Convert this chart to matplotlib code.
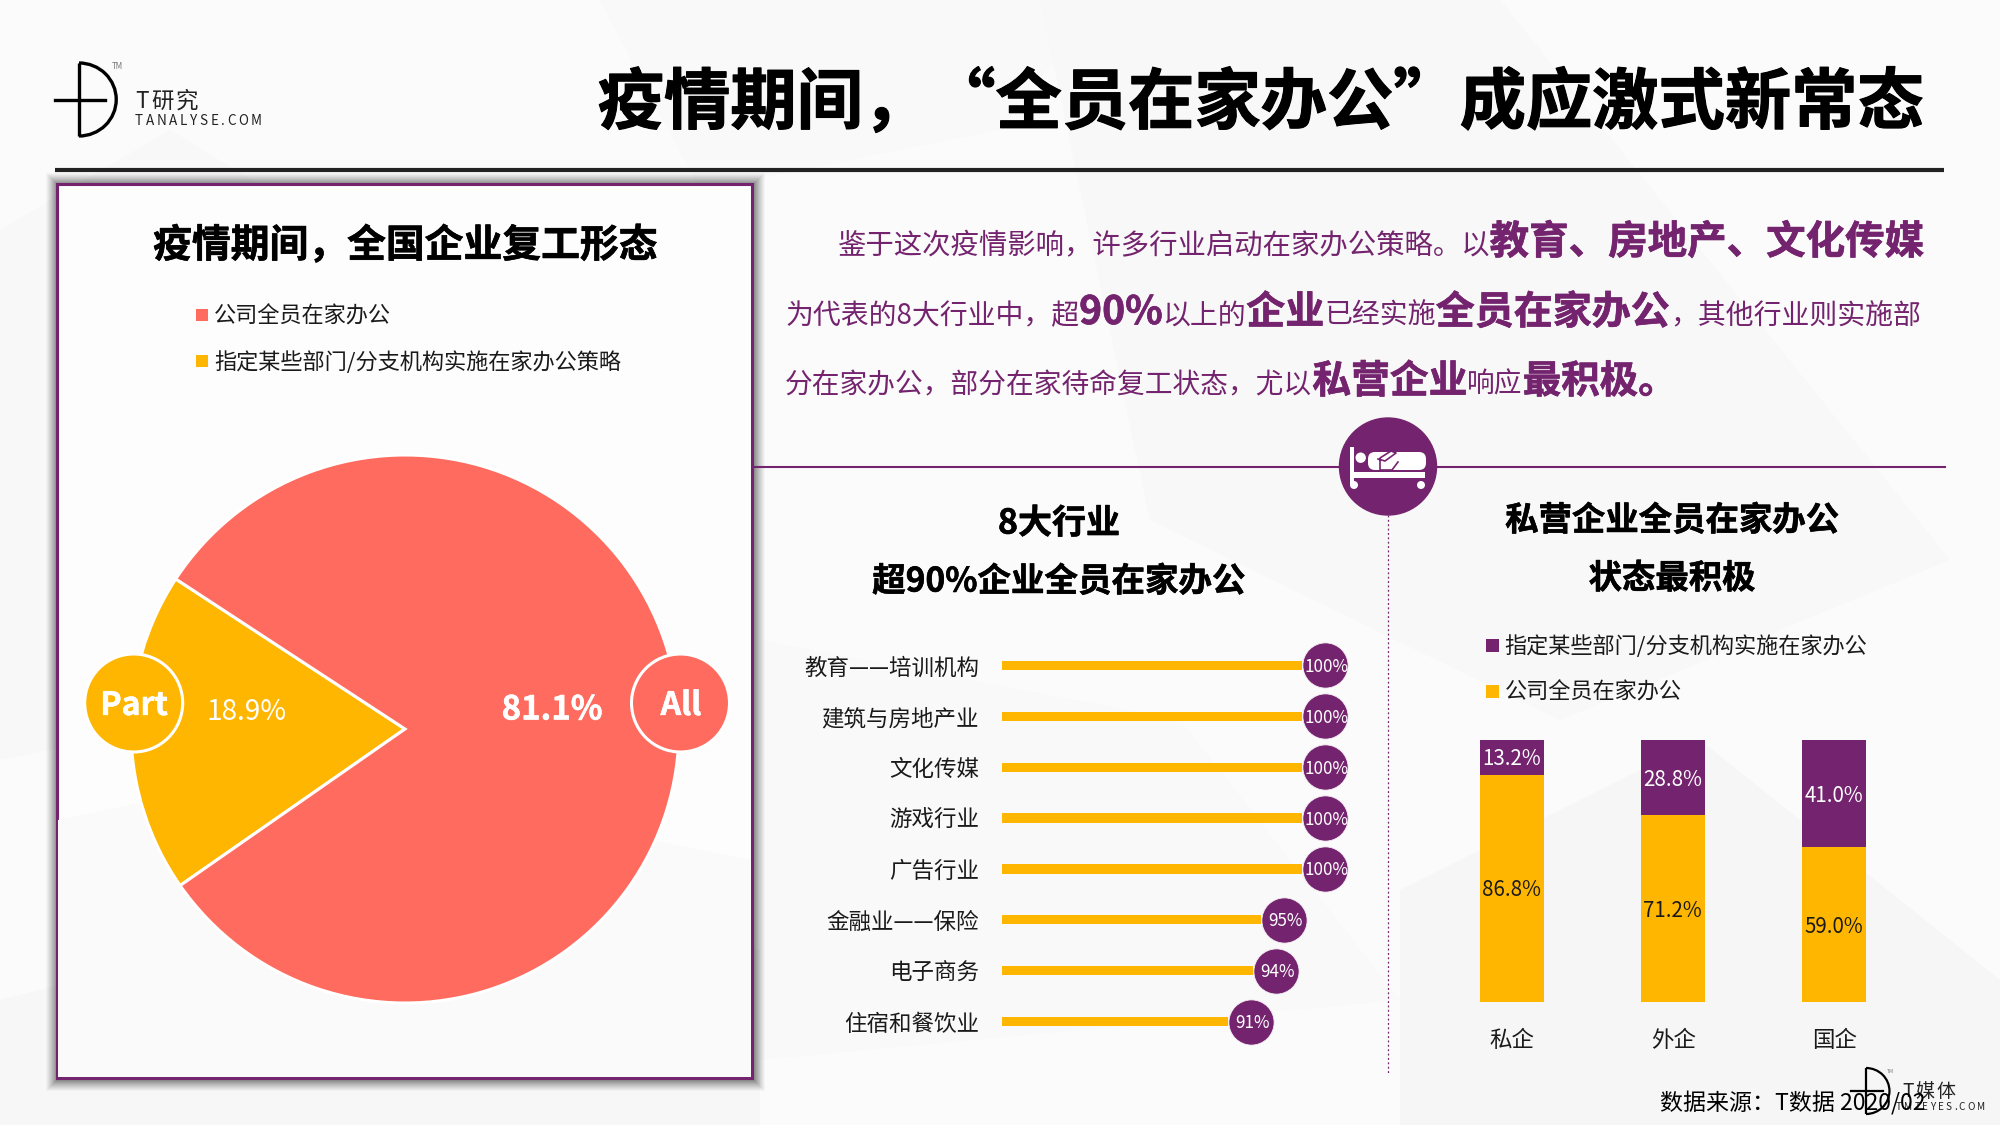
import matplotlib
matplotlib.use("Agg")
import matplotlib.pyplot as plt
import matplotlib.patheffects as pe
from matplotlib.patches import Rectangle, Circle, Polygon, FancyBboxPatch, Arc

plt.rcParams['font.family'] = ['Noto Sans CJK SC', 'DejaVu Sans']

# data
pie_labels = ["指定某些部门/分支机构实施在家办公策略", "公司全员在家办公"]
pie_values = [18.9, 81.1]

industries = ["教育——培训机构", "建筑与房地产业", "文化传媒", "游戏行业", "广告行业",
              "金融业——保险", "电子商务", "住宿和餐饮业"]
industry_values = [100, 100, 100, 100, 100, 95, 94, 91]

company_types = ["私企", "外企", "国企"]
all_staff = [86.8, 71.2, 59.0]
some_depts = [13.2, 28.8, 41.0]

PURPLE = "#74246E"
YELLOW = "#FFB600"
CORAL = "#FF6B5E"

W, H = 2000, 1125
fig = plt.figure(figsize=(20, 11.25), dpi=100)


def px_axes(x0, y0, x1, y1, z):
    return fig.add_axes([x0 / W, 1 - y1 / H, (x1 - x0) / W, (y1 - y0) / H], zorder=z)


def pt(px):
    return px * 0.72


# background + card
bg = px_axes(0, 0, W, H, 0)
bg.set_xlim(0, W)
bg.set_ylim(H, 0)
bg.axis("off")
bg.add_patch(Rectangle((0, 0), W, H, color="#FBFBFB", zorder=0))
shapes = [
    ([(0, 230), (170, 130), (480, 320), (700, 620), (0, 760)], "#F8F8F8"),
    ([(600, 0), (1100, 0), (1000, 130), (700, 190)], "#F9F9F9"),
    ([(1040, 0), (1500, 0), (1950, 560), (1560, 720), (1150, 520)], "#F8F8F8"),
    ([(1400, 890), (1700, 740), (2000, 980), (2000, 1125), (1400, 1125)], "#F6F6F6"),
    ([(0, 1000), (400, 900), (760, 950), (760, 1125), (0, 1125)], "#F7F7F7"),
    ([(760, 640), (1180, 720), (1400, 1000), (760, 1060)], "#F9F9F9"),
]
for pts, c in shapes:
    bg.add_patch(Polygon(pts, closed=True, color=c, lw=0, zorder=1))

for i in range(12):
    grow = 12 - i
    bg.add_patch(Rectangle((57 - grow + 1, 184 - grow + 1), 695 + 2 * grow, 894 + 2 * grow,
                           color="#000000", alpha=0.028 + i * 0.004, lw=0, zorder=2))
bg.add_patch(Rectangle((57, 184), 695, 894, facecolor="#FDFDFD", edgecolor=PURPLE, lw=2.2, zorder=3))
bg.add_patch(Polygon([(58, 820), (300, 770), (751, 860), (751, 1077), (58, 1077)], closed=True,
                     color="#FAFAFA", lw=0, zorder=3.1))

# pie
ax_pie = px_axes(405 - 274, 729 - 274, 405 + 274, 729 + 274, 1)
ax_pie.pie(pie_values, colors=[YELLOW, CORAL], startangle=146.8,
           wedgeprops={"edgecolor": "white", "linewidth": 2.2})
ax_pie.set_xlim(-1, 1)
ax_pie.set_ylim(-1, 1)

# lollipop bars
ax_bar = px_axes(1002, 640, 1302 + 60, 1047, 1)
px_per_pct = 8.2
left_val = 100 - 300 / px_per_pct
ax_bar.set_xlim(left_val, left_val + 360 / px_per_pct)
ax_bar.set_ylim(len(industries) - 0.5, -0.5)
pos = list(range(len(industries)))
ax_bar.barh(pos, [v - left_val for v in industry_values], left=left_val, height=0.18, color=YELLOW)
bubble_x = [v + 2.8 for v in industry_values]
ax_bar.scatter(bubble_x, pos, s=1060, color=PURPLE, edgecolors="#F4EEF4", linewidths=0.6, zorder=3, clip_on=False)
for bx, p, v in zip(bubble_x, pos, industry_values):
    ax_bar.text(bx + 0.2, p + 0.03, f"{v}%", color="white", ha="center", va="center", fontsize=pt(17), zorder=4)
ax_bar.set_yticks(pos)
ax_bar.set_yticklabels(industries, fontsize=pt(22.5), color="#1A1A1A")
ax_bar.tick_params(axis="y", length=0, pad=pt(23))
ax_bar.set_xticks([])
for s in ax_bar.spines.values():
    s.set_visible(False)
ax_bar.patch.set_alpha(0)

# stacked bars
ax_st = px_axes(1431.5, 740, 1915, 1002, 1)
xs = list(range(len(company_types)))
ax_st.bar(xs, all_staff, width=0.397, color=YELLOW)
ax_st.bar(xs, some_depts, width=0.397, bottom=all_staff, color=PURPLE)
ax_st.set_xlim(-0.5, 2.5)
ax_st.set_ylim(0, 100)
for x, a, b in zip(xs, all_staff, some_depts):
    ax_st.text(x - 0.005, a / 2 - 0.7, f"{a:.1f}%", ha="center", va="center", color="#1A1A1A", fontsize=pt(20.5))
    ax_st.text(x - 0.005, a + b / 2 - 0.7, f"{b:.1f}%", ha="center", va="center", color="white", fontsize=pt(20.5))
ax_st.set_xticks(xs)
ax_st.set_xticklabels(company_types, fontsize=pt(22.5), color="#1A1A1A")
ax_st.tick_params(axis="x", length=0, pad=pt(27))
ax_st.set_yticks([])
for s in ax_st.spines.values():
    s.set_visible(False)
ax_st.patch.set_alpha(0)

# overlay for text and decoration, pixel coords
ov = px_axes(0, 0, W, H, 5)
ov.set_xlim(0, W)
ov.set_ylim(H, 0)
ov.axis("off")
ov.patch.set_alpha(0)
renderer = fig.canvas.get_renderer()


def label(x, y, s, size, color="black", bold=False, ha="center", va="center", z=10):
    if va == "center":
        y = y + size * 0.09
    t = ov.text(x, y, s, fontsize=pt(size), color=color, ha=ha, va=va, zorder=z,
                fontweight="bold" if bold else "normal")
    if bold:
        # the original face is a bit heavier than Noto bold
        t.set_path_effects([pe.withStroke(linewidth=size * 0.012, foreground=color)])
    return t


def draw_runs(x, y, runs, color=PURPLE):
    # runs of different size on one baseline
    for s, size, bold in runs:
        label(x, y, s, size, color, bold, ha="left", va="baseline")
        long_t = label(0, 0, s + "|", size, color, bold, ha="left")
        pipe = label(0, 0, "|", size, color, bold, ha="left")
        width = long_t.get_window_extent(renderer).width - pipe.get_window_extent(renderer).width
        long_t.remove()
        pipe.remove()
        x += width


def tracked(x, y, s, size, gap, color="black"):
    for ch in s:
        t = label(x, y, ch, size, color, ha="left", va="baseline")
        x += t.get_window_extent(renderer).width + gap


def logo(cx, top, bottom, lw, tm_size=8):
    mid = (top + bottom) / 2
    h = bottom - top
    rw = h * 0.51
    ov.plot([cx, cx], [top, bottom], color="black", lw=lw, solid_capstyle="butt", zorder=8)
    ov.add_patch(Arc((cx, mid), 2 * rw, h, theta1=-90, theta2=90, color="black", lw=lw, zorder=8))
    ov.plot([cx - h * 0.33, cx - 2], [mid, mid], color="black", lw=lw, zorder=8)
    ov.plot([cx + 2, cx + h * 0.36], [mid, mid], color="black", lw=lw, zorder=8)
    label(cx + rw + 1, top + 3, "TM", tm_size, "#777777")


# header
logo(79, 63, 136, 2.4)
tracked(135, 108, "T研究", 22.5, 2.5, "#222222")
tracked(135, 125, "TANALYSE.COM", 13.5, 2.6, "#222222")
label(1923, 98, "疫情期间，“全员在家办公”成应激式新常态", 66.3, "black", True, ha="right")
ov.plot([55, 1944], [170, 170], color="#222222", lw=3.0, solid_capstyle="butt", zorder=6)

# left panel text
label(405, 242, "疫情期间，全国企业复工形态", 38.8, "black", True)
for y, c, s in [(315, CORAL, pie_labels[1]), (361, YELLOW, pie_labels[0])]:
    ov.add_patch(Rectangle((196, y - 6), 12, 12, color=c, lw=0))
    label(214, y, s, 22.2, "#1A1A1A", ha="left")

# Part / All tags
ov.add_patch(Circle((133.7, 703), 49, facecolor=YELLOW, edgecolor="white", lw=2.2))
ov.add_patch(Circle((680.5, 703), 49, facecolor=CORAL, edgecolor="white", lw=2.2))
label(134, 703, "Part", 32, "white", True)
label(681, 703, "All", 32, "white", True)
label(246.8, 709, f"{pie_values[0]}%", 28, "white")
label(552, 707, f"{pie_values[1]}%", 33, "white", True)

# intro paragraph
draw_runs(837, 254, [("鉴于这次疫情影响，许多行业启动在家办公策略。以", 28.4, False),
                     ("教育、房地产、文化传媒", 39.5, True)])
draw_runs(785, 324, [("为代表的8大行业中，超", 27.9, False), ("90%", 39, True), ("以上的", 27.9, False),
                     ("企业", 39, True), ("已经实施", 27.9, False), ("全员在家办公", 39, True),
                     ("，其他行业则实施部", 27.9, False)])
draw_runs(785, 393, [("分在家办公，部分在家待命复工状态，尤以", 27.7, False), ("私营企业", 38.8, True),
                     ("响应", 27.7, False), ("最积极。", 38.5, True)])

# divider + dotted line + bed icon
ov.plot([753, 1945], [467, 467], color=PURPLE, lw=1.5, zorder=6)
ov.plot([1388, 1388], [515, 1075], color=PURPLE, lw=0.9, ls=(0, (1.5, 2)), zorder=6)
ov.add_patch(Circle((1388, 466.5), 48.5, color=PURPLE, zorder=7))
ov.add_patch(Rectangle((1350, 447), 3.6, 38, color="white", lw=0, zorder=8))
ov.add_patch(Rectangle((1350, 472), 75, 6, color="white", lw=0, zorder=8))
ov.add_patch(Circle((1360.7, 457.7), 5.2, color="white", lw=0, zorder=8))
ov.add_patch(Circle((1354, 485), 4, color="white", lw=0, zorder=8))
ov.add_patch(Circle((1421, 485), 4, color="white", lw=0, zorder=8))
ov.add_patch(FancyBboxPatch((1369, 453), 56, 16, boxstyle="round,pad=1,rounding_size=7", color="white", lw=0, zorder=8))
ov.plot([1378, 1385, 1396, 1391, 1380, 1380, 1392, 1398], [459, 461, 453, 451, 458, 470, 470, 462],
        color=PURPLE, lw=1.2, zorder=9)

# section titles
label(1059, 520, "8大行业", 34, "black", True)
label(1059, 579, "超90%企业全员在家办公", 33.5, "black", True)
label(1672, 518, "私营企业全员在家办公", 33.4, "black", True)
label(1672, 576, "状态最积极", 33.4, "black", True)

# right legend
for y, c, s in [(645, PURPLE, "指定某些部门/分支机构实施在家办公"), (691, YELLOW, "公司全员在家办公")]:
    ov.add_patch(Rectangle((1486, y - 6.5), 13, 13, color=c, lw=0))
    label(1504.5, y, s, 22.2, "#1A1A1A", ha="left")

# bottom right watermark + source
logo(1866, 1068, 1114, 1.6, tm_size=5)
tracked(1902, 1097, "T媒体", 19, 2, "#222222")
tracked(1896, 1110, "TMTEYES.COM", 10, 2.1, "#222222")
label(1925, 1100, "数据来源：T数据 2020/02", 23, "black", ha="right", z=12)

fig.savefig("out.png", dpi=100)
